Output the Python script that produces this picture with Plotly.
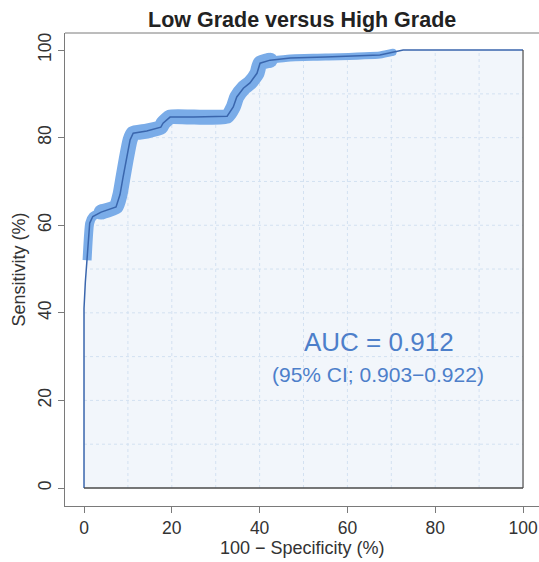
import plotly.graph_objects as go

# ROC curve (100 - specificity vs sensitivity, %)
fpr = [0, 0, 0.3, 0.7, 1.3, 2.0, 3.9, 7.3, 8.2, 8.9, 9.6, 10.5, 11.2, 14.3, 17.5, 18.0,
       19.6, 25.0, 32.6, 34.0, 34.8, 36.3, 37.8, 39.4, 40.1, 42.4, 47.0, 55.0, 67.4,
       70.4, 72.7, 100]
sens = [0, 41, 47, 52, 60.5, 62, 63, 64.2, 67, 71, 75, 79.5, 81, 81.5, 82.4, 83.3,
        84.7, 84.7, 84.9, 87, 89.3, 91.3, 92.5, 94.7, 97, 97.7, 98.2, 98.4, 98.9,
        99.5, 100, 100]

tick_vals = [0, 20, 40, 60, 80, 100]
grid_vals = [10, 20, 30, 40, 50, 60, 70, 80, 90]

title_text = "Low Grade versus High Grade"
x_title = "100 \u2212 Specificity (%)"
y_title = "Sensitivity (%)"
auc_text = "AUC = 0.912"
ci_text = "(95% CI; 0.903\u22120.922)"

band_col = "rgb(122,172,232)"
line_col = "#3a66ad"
text_col = "#4d7fca"
frame_col = "#7a7a7a"
fill_col = "#f2f6fb"

# band segments: thin start, wide middle, narrow end
i_a = 3
i_b = 6
i_mid = fpr.index(42.4)
i_end = fpr.index(70.4)
segments = [(i_a, i_b, 9), (i_b, i_mid, 15), (i_mid, i_end, 7)]

fig = go.Figure()
# white cover above curve (hides grid there)
fig.add_trace(go.Scatter(x=fpr, y=[100] * len(fpr), mode="lines", line=dict(width=0),
                         hoverinfo="skip", showlegend=False))
fig.add_trace(go.Scatter(x=fpr, y=sens, mode="lines", line=dict(width=0),
                         fill="tonexty", fillcolor="white",
                         hoverinfo="skip", showlegend=False))
for k, (s, e, w) in enumerate(segments):
    fig.add_trace(go.Scatter(x=fpr[s:e + 1], y=sens[s:e + 1], mode="lines",
                             line=dict(color=band_col, width=w, shape="spline", smoothing=0.5),
                             hoverinfo="skip", showlegend=False))
    ends = [e] if k == 0 else [s, e]
    fig.add_trace(go.Scatter(x=[fpr[j] for j in ends], y=[sens[j] for j in ends],
                             mode="markers",
                             marker=dict(color=band_col, size=w, line=dict(width=0)),
                             hoverinfo="skip", showlegend=False))
fig.add_trace(go.Scatter(x=fpr, y=sens, mode="lines",
                         line=dict(color=line_col, width=1.5),
                         showlegend=False))

shapes = []
# area background
shapes.append(dict(type="rect", xref="x", yref="y", x0=0, x1=100, y0=0, y1=100,
                   fillcolor=fill_col, line=dict(width=0), layer="below"))
for g in grid_vals:
    shapes.append(dict(type="line", xref="x", yref="y", x0=g, x1=g, y0=0, y1=100,
                       line=dict(color="#d3e1f1", width=1, dash="dot"), layer="below"))
    shapes.append(dict(type="line", xref="x", yref="y", x0=0, x1=100, y0=g, y1=g,
                       line=dict(color="#d3e1f1", width=1, dash="dot"), layer="below"))
# panel border (right & bottom dark)
shapes.append(dict(type="line", xref="x", yref="y", x0=0, x1=100, y0=0, y1=0,
                   line=dict(color="#4a4a4a", width=1.5)))
shapes.append(dict(type="line", xref="x", yref="y", x0=100, x1=100, y0=0, y1=100,
                   line=dict(color="#4a4a4a", width=1.2)))
# outer frame top line
shapes.append(dict(type="line", xref="paper", yref="paper", x0=0, x1=1, y0=1, y1=1,
                   line=dict(color=frame_col, width=1)))

annotations = [
    dict(text=f"<b>{title_text}</b>", xref="paper", yref="paper", x=0.5, y=1, yshift=13,
         xanchor="center", yanchor="middle", showarrow=False,
         font=dict(size=21.5, color="#222222", family="Liberation Sans, Arial")),
    dict(text=x_title, xref="paper", yref="paper", x=0.5, y=0, yshift=-42,
         xanchor="center", yanchor="middle", showarrow=False,
         font=dict(size=18, color="#333333")),
    dict(text=y_title, xref="paper", yref="paper", x=0, xshift=-47, y=0.5, textangle=-90,
         xanchor="center", yanchor="middle", showarrow=False,
         font=dict(size=18, color="#333333")),
    dict(text=auc_text, xref="x", yref="y", x=67.2, y=33.3,
         xanchor="center", yanchor="middle", showarrow=False,
         font=dict(size=26, color=text_col)),
    dict(text=ci_text, xref="x", yref="y", x=66.9, y=26.0,
         xanchor="center", yanchor="middle", showarrow=False,
         font=dict(size=21, color=text_col)),
]

fig.update_layout(
    width=539, height=562,
    margin=dict(l=65, r=0, t=33, b=56),
    paper_bgcolor="white", plot_bgcolor="white",
    font=dict(family="Liberation Sans, Arial", color="#333333"),
    shapes=shapes, annotations=annotations,
    xaxis=dict(range=[-4.33, 103.64], tickvals=tick_vals, showgrid=False, zeroline=False,
               showline=True, linecolor=frame_col, linewidth=1,
               ticks="outside", ticklen=6, tickcolor=frame_col,
               tickfont=dict(size=17.5, color="#333333")),
    yaxis=dict(range=[-4.11, 103.9], tickvals=tick_vals, showgrid=False, zeroline=False,
               showline=True, linecolor=frame_col, linewidth=1,
               ticks="outside", ticklen=6, tickcolor=frame_col, tickangle=-90,
               tickfont=dict(size=17.5, color="#333333")),
)

fig.write_html("out.html")
